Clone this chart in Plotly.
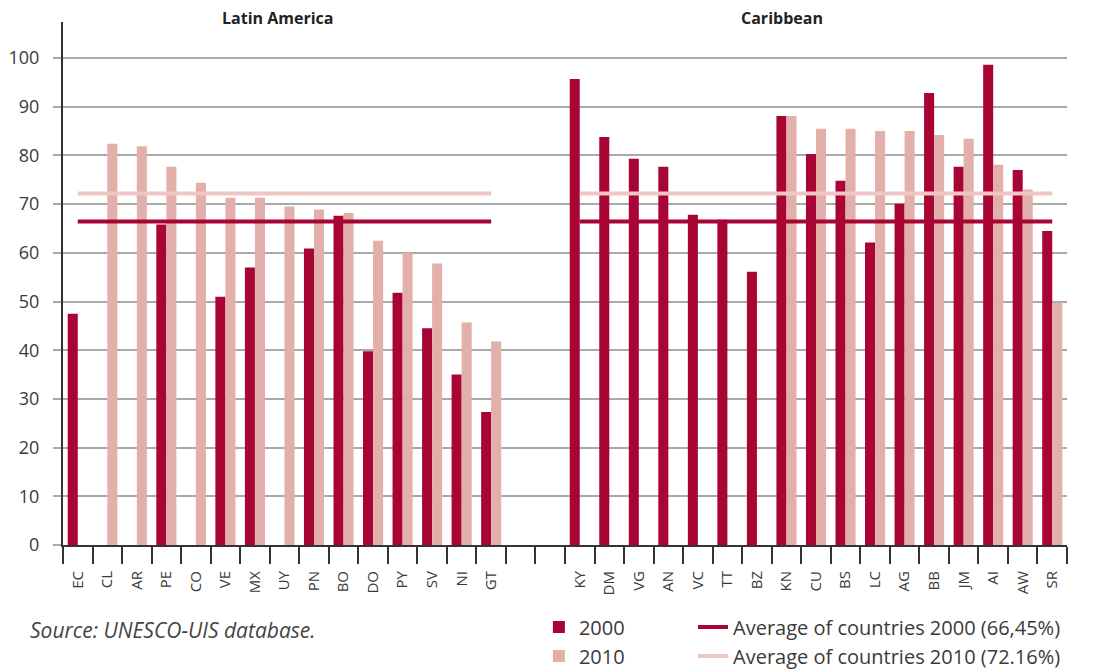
import plotly.graph_objects as go

# ---- data ----
latin_codes = ["EC", "CL", "AR", "PE", "CO", "VE", "MX", "UY", "PN", "BO", "DO", "PY", "SV", "NI", "GT"]
latin_2000 = [47.5, None, None, 65.8, None, 51.0, 57.0, None, 60.9, 67.6, 39.8, 51.8, 44.5, 35.0, 27.3]
latin_2010 = [None, 82.4, 81.9, 77.7, 74.4, 71.3, 71.3, 69.5, 68.9, 68.2, 62.5, 60.0, 57.8, 45.7, 41.8]

gap_codes = [" ", "  "]

carib_codes = ["KY", "DM", "VG", "AN", "VC", "TT", "BZ", "KN", "CU", "BS", "LC", "AG", "BB", "JM", "AI", "AW", "SR"]
carib_2000 = [95.7, 83.8, 79.3, 77.7, 67.8, 66.8, 56.1, 88.1, 80.3, 74.8, 62.1, 70.1, 92.8, 77.7, 98.6, 77.0, 64.5]
carib_2010 = [None, None, None, None, None, None, None, 88.1, 85.5, 85.5, 85.0, 85.0, 84.2, 83.4, 78.1, 73.0, 49.8]

avg_2000 = 66.45
avg_2010 = 72.16

region_titles = ["Latin America", "Caribbean"]
source_text = "Source: UNESCO-UIS database."

# ---- styles ----
C2000 = "#A80535"
C2010 = "#E2AFAB"
CLINE2010 = "#F0C6C5"
FONT = "Open Sans"
TXT = "#3A3A3A"

all_codes = latin_codes + gap_codes + carib_codes
vals_2000 = latin_2000 + [None] * len(gap_codes) + carib_2000
vals_2010 = latin_2010 + [None] * len(gap_codes) + carib_2010

fig = go.Figure()
fig.add_trace(go.Bar(x=all_codes, y=vals_2000, name="2000", marker_color=C2000,
                     marker_line_width=0, legend="legend"))
fig.add_trace(go.Bar(x=all_codes, y=vals_2010, name="2010", marker_color=C2010,
                     marker_line_width=0, legend="legend"))

# average lines (Latin America and Caribbean segments)
for i, codes in enumerate([latin_codes, carib_codes]):
    fig.add_trace(go.Scatter(x=[codes[0], codes[-1]], y=[avg_2010, avg_2010], mode="lines",
                             line=dict(color=CLINE2010, width=4),
                             name="Average of countries 2010 (72.16%)",
                             legend="legend2", showlegend=(i == 0), legendrank=2,
                             hoverinfo="skip"))
    fig.add_trace(go.Scatter(x=[codes[0], codes[-1]], y=[avg_2000, avg_2000], mode="lines",
                             line=dict(color=C2000, width=4),
                             name="Average of countries 2000 (66,45%)",
                             legend="legend2", showlegend=(i == 0), legendrank=1,
                             hoverinfo="skip"))

fig.update_layout(
    width=1089, height=661,
    margin=dict(l=55, r=30, t=14, b=124),
    paper_bgcolor="white", plot_bgcolor="white",
    barmode="group", bargap=0.32, bargroupgap=0,
    font=dict(family=FONT, color=TXT),
    xaxis=dict(
        type="category", categoryorder="array", categoryarray=all_codes,
        tickson="boundaries", ticks="outside", ticklen=17, tickwidth=2, tickcolor="#333333",
        showline=True, linecolor="#333333", linewidth=2,
        showgrid=False, tickangle=-90, tickfont=dict(size=15, color=TXT),
        ticklabelstandoff=18, automargin=False,
        range=[-0.5, len(all_codes) - 0.5],
    ),
    yaxis=dict(
        range=[0, 107.4], tickvals=list(range(0, 101, 10)),
        showgrid=True, gridcolor="#A9A9A9", gridwidth=2,
        ticks="outside", ticklen=8, tickcolor="#A9A9A9", tickwidth=2,
        showline=True, linecolor="#333333", linewidth=2,
        zeroline=False, tickfont=dict(size=18, color=TXT),
        ticklabelstandoff=10, automargin=False,
    ),
    legend=dict(x=0.474, y=0.093, xref="paper", yref="container",
                xanchor="left", yanchor="top", orientation="v",
                font=dict(size=20, color=TXT), bgcolor="rgba(0,0,0,0)",
                tracegroupgap=0),
    legend2=dict(x=0.6275, y=0.093, xref="paper", yref="container",
                 xanchor="left", yanchor="top", orientation="v",
                 font=dict(size=20, color=TXT), bgcolor="rgba(0,0,0,0)",
                 traceorder="normal", tracegroupgap=0),
    showlegend=True,
)

fig.add_annotation(text="<b>%s</b>" % region_titles[0], xref="paper", yref="paper",
                   x=0.214, y=1.0076, xanchor="center", yanchor="middle", showarrow=False,
                   font=dict(size=16, color="#222222"))
fig.add_annotation(text="<b>%s</b>" % region_titles[1], xref="paper", yref="paper",
                   x=0.716, y=1.0076, xanchor="center", yanchor="middle", showarrow=False,
                   font=dict(size=16, color="#222222"))
fig.add_annotation(text="<i>%s</i>" % source_text, xref="paper", yref="paper",
                   x=-0.0349, y=-0.1625, xanchor="left", yanchor="middle", showarrow=False,
                   font=dict(size=21, color="#444444"))

fig.write_html("out.html")
